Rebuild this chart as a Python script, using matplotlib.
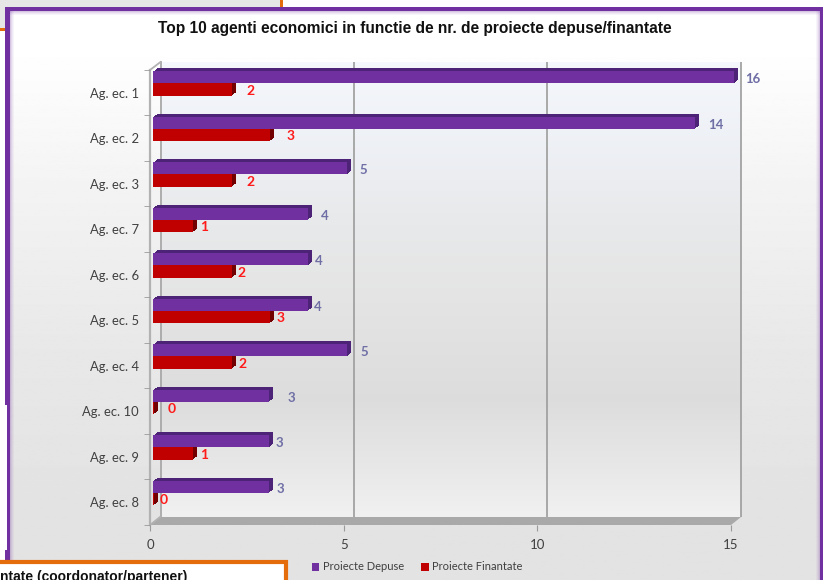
import numpy as np
import matplotlib
matplotlib.use('Agg')
import matplotlib.pyplot as plt
from matplotlib.patches import Rectangle, Polygon
from matplotlib.transforms import ScaledTranslation

# values
categories = ['Ag. ec. 1', 'Ag. ec. 2', 'Ag. ec. 3', 'Ag. ec. 7', 'Ag. ec. 6',
              'Ag. ec. 5', 'Ag. ec. 4', 'Ag. ec. 10', 'Ag. ec. 9', 'Ag. ec. 8']
depuse = [16, 14, 5, 4, 4, 4, 5, 3, 3, 3]
finantate = [2, 3, 2, 1, 2, 3, 2, 0, 1, 0]
x_ticks = [0, 5, 10, 15]

# label gaps in pixels, the labels are not placed evenly in the original
gap_depuse = [8, 10, 10, 10, 4, 3, 11, 15, 3, 4]
gap_finantate = [13, 14, 13, 5, 4, 4, 5, 12, 5, 4]

W, H = 827, 580
PURPLE = '#7030a0'
ORANGE = '#e46c0a'
GREY_TXT = '#404040'

fig = plt.figure(figsize=(W / 100, H / 100), dpi=100, facecolor='white')

# background stuff in pixel coordinates
bg = fig.add_axes([0, 0, 1, 1], zorder=0)
bg.axis('off')

bg.add_patch(Rectangle((0, 0), 280, 28, fc='#e6e6e6', ec='none'))
bg.add_patch(Rectangle((0, 27.5), 283, 3, fc=ORANGE, ec='none'))
bg.add_patch(Rectangle((279.5, 0), 3.5, 30, fc=ORANGE, ec='none'))

# purple frame with its grey gradient
rows = np.linspace(10, H, 300).reshape(-1, 1)
panel = np.interp(rows, [10, 45, 200, 350, 500, H], [1.0, 1.0, 0.95, 0.91, 0.89, 0.89])
bg.imshow(panel, extent=(9, 820, H, 10), cmap='gray', vmin=0, vmax=1, aspect='auto', zorder=1)
# soft lavender glow inside the frame
for k, a in enumerate([0.28, 0.18, 0.1, 0.05]):
    bg.add_patch(Rectangle((9.5 + k, 10), 1, H - 10, fc=PURPLE, alpha=a, ec='none', zorder=1.5))
    bg.add_patch(Rectangle((818.5 - k, 10), 1, H - 10, fc=PURPLE, alpha=a, ec='none', zorder=1.5))
    bg.add_patch(Rectangle((9, 10.5 + k), 811, 1, fc=PURPLE, alpha=a, ec='none', zorder=1.5))
bg.add_patch(Rectangle((5, 7), 3, 398, fc=PURPLE, ec='none', zorder=2))
bg.add_patch(Rectangle((7, 7), 2.5, H - 7, fc=PURPLE, ec='none', zorder=2))
bg.add_patch(Rectangle((5, 550), 3, 11, fc=PURPLE, ec='none', zorder=2))
bg.add_patch(Rectangle((5, 7), 818, 3.5, fc=PURPLE, ec='none', zorder=2))
bg.add_patch(Rectangle((819.5, 7), 3.5, H - 7, fc=PURPLE, ec='none', zorder=2))

# back wall and floor of the 3d box
wall_y = [62, 150, 220, 300, 400, 470, 517]
wall_r = np.interp(np.linspace(62, 517, 300), wall_y, [0.96, 0.93, 0.91, 0.895, 0.865, 0.91, 0.945])
wall_g = np.interp(np.linspace(62, 517, 300), wall_y, [0.97, 0.94, 0.915, 0.895, 0.865, 0.91, 0.945])
wall_b = np.interp(np.linspace(62, 517, 300), wall_y, [0.985, 0.96, 0.92, 0.895, 0.865, 0.91, 0.945])
wall_rgb = np.dstack([wall_r, wall_g, wall_b]).reshape(-1, 1, 3)
bg.imshow(wall_rgb, extent=(160, 741, 517, 62), aspect='auto', zorder=3)
bg.add_patch(Polygon([(150, 525), (160, 517), (741, 517), (731, 525)], fc='#a9a9a9', ec='none', zorder=4))
bg.plot([150, 150], [70, 525], color='#b2b2b2', lw=1.6, zorder=4)
bg.plot([160.5, 160.5], [62, 517], color='#a8a8a8', lw=1.3, zorder=4)
bg.plot([150, 160.5], [70, 62], color='#b2b2b2', lw=1.3, zorder=4)
bg.plot([150, 160], [525, 517], color='#b2b2b2', lw=1.3, zorder=4)
bg.set_xlim(0, W)
bg.set_ylim(H, 0)

# main axes is the front plane of the box
ax = fig.add_axes([150 / W, 1 - 525 / H, 581 / W, 455 / H], zorder=2)
ax.patch.set_alpha(0)
ax.set_xlim(0, 15)
ax.set_ylim(9.5, -0.5)
for s in ax.spines.values():
    s.set_visible(False)

y = np.arange(len(categories))
bar_h = 0.268


def px(dx, dy):
    return ax.transData + ScaledTranslation(dx / 100, -dy / 100, fig.dpi_scale_trans)


# gridlines on the back wall
ax.vlines(x_ticks[1:], -0.5, 9.5, color='#9c9c9c', lw=1.2, transform=px(10, -8), zorder=1, clip_on=False)

bars_plane = px(3, -9.3)
y_dep = y - bar_h / 2
y_fin = y + bar_h / 2
shown = np.minimum(depuse, x_ticks[-1])
fin_shown = np.array(finantate) + 0.03  # zero bars still show a sliver


def bar3d(yy, vals, front, side, label):
    # extrude the dark faces step by step, then the front face on top
    for k in [1, 2, 3, 4]:
        ax.barh(yy, vals, bar_h, color=side, transform=px(3 + k, -9.3 - k * 0.75), zorder=2, clip_on=False)
    ax.barh(yy, vals, bar_h, color=front, transform=bars_plane, zorder=3, clip_on=False, label=label)


bar3d(y_fin, fin_shown, '#c00000', '#720000', 'Proiecte Finantate')
bar3d(y_dep, shown, PURPLE, '#4d2377', 'Proiecte Depuse')

for i in range(len(y)):
    ax.annotate(str(depuse[i]), (shown[i], y_dep[i]), xycoords=bars_plane,
                xytext=(3 + gap_depuse[i], -2), textcoords='offset pixels',
                color='#6f6fa6', fontsize=9.5, fontweight='bold', family='Lato',
                va='center', ha='left', zorder=5)
    ax.annotate(str(finantate[i]), (finantate[i], y_fin[i]), xycoords=bars_plane,
                xytext=(3 + gap_finantate[i], -1), textcoords='offset pixels',
                color='#ff1a1a', fontsize=10, fontweight='bold', family='Lato',
                va='center', ha='left', zorder=5)

ax.set_xticks(x_ticks)
ax.set_yticks(y)
ax.set_yticklabels(categories, family='Lato', fontsize=9.4, color=GREY_TXT)
ax.set_yticks(np.arange(-0.5, 10), minor=True)
ax.tick_params(axis='y', which='major', length=0, pad=8)
ax.tick_params(axis='y', which='minor', length=4, color='#9a9a9a')
ax.tick_params(axis='x', length=4, color='#9a9a9a', pad=6, labelsize=9.5, labelcolor=GREY_TXT)
for lab in ax.get_xticklabels():
    lab.set_family('Lato')

fig.text(415 / W, 1 - 29 / H, 'Top 10 agenti economici in functie de nr. de proiecte depuse/finantate',
         family='Liberation Sans', fontweight='bold', fontsize=11.2, color='#111111',
         ha='center', va='center', zorder=6)

handles, labels = ax.get_legend_handles_labels()
leg = ax.legend(handles[::-1], labels[::-1], loc='center left', bbox_to_anchor=(311.5 / W, 1 - 567 / H),
                bbox_transform=fig.transFigure, ncol=2, frameon=False,
                handlelength=0.7, handleheight=0.7, handletextpad=0.3, columnspacing=1.55,
                prop={'family': 'Lato', 'size': 8}, borderpad=0, borderaxespad=0)
for t in leg.get_texts():
    t.set_color(GREY_TXT)

# box of the next slide element, cut off by the picture edge
fg = fig.add_axes([0, 0, 1, 1], zorder=3)
fg.set_xlim(0, W)
fg.set_ylim(H, 0)
fg.axis('off')
fg.patch.set_alpha(0)
fg.add_patch(Rectangle((-5, 561.5), 291, 30, fc='white', ec=ORANGE, lw=3))
fg.text(0, 577, 'ntate (coordonator/partener)', family='Liberation Sans', fontweight='bold',
        fontsize=10, color='#111111', ha='left', va='center')

fig.savefig('out.png', dpi=100)
